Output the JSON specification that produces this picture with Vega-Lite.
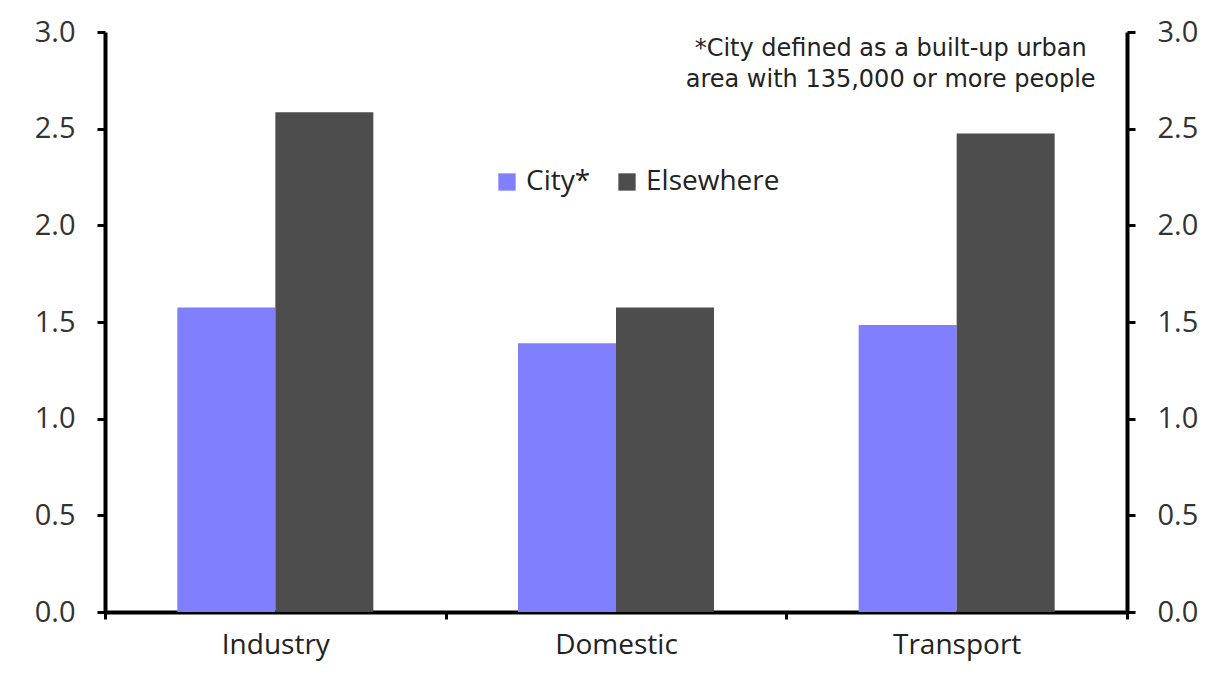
{
  "$schema": "https://vega.github.io/schema/vega-lite/v6.json",
  "width": 1022,
  "height": 580,
  "autosize": {"type": "none"},
  "padding": {"left": 105, "top": 32, "right": 91, "bottom": 67},
  "background": "white",
  "config": {
    "view": {"stroke": null},
    "font": "Open Sans"
  },
  "data": {
    "values": [
      {"sector": "Industry", "area": "City*", "value": 1.575},
      {"sector": "Industry", "area": "Elsewhere", "value": 2.585},
      {"sector": "Domestic", "area": "City*", "value": 1.39},
      {"sector": "Domestic", "area": "Elsewhere", "value": 1.575},
      {"sector": "Transport", "area": "City*", "value": 1.485},
      {"sector": "Transport", "area": "Elsewhere", "value": 2.475}
    ]
  },
  "layer": [
    {
      "mark": {"type": "bar"},
      "encoding": {
        "x": {
          "field": "sector", "type": "nominal",
          "scale": {"domain": ["Industry", "Domestic", "Transport"], "paddingInner": 0, "paddingOuter": 0},
          "axis": {
            "title": null, "labelAngle": 0, "labelFontSize": 28, "labelColor": "#222",
            "labelPadding": 12, "domainColor": "black", "domainWidth": 4,
            "tickColor": "black", "tickWidth": 3, "tickSize": 7, "tickBand": "extent"
          }
        },
        "xOffset": {
          "field": "area", "type": "nominal",
          "scale": {"domain": ["City*", "Elsewhere"], "paddingInner": 0, "paddingOuter": 0.738}
        },
        "y": {
          "field": "value", "type": "quantitative",
          "scale": {"domain": [0, 3], "nice": false},
          "axis": {
            "title": null, "values": [0, 0.5, 1, 1.5, 2, 2.5, 3], "format": ".1f",
            "grid": false, "labelFontSize": 29, "labelColor": "#333", "labelPadding": 22,
            "domainColor": "black", "domainWidth": 4, "tickColor": "black", "tickWidth": 3, "tickSize": 8
          }
        },
        "color": {
          "field": "area", "type": "nominal",
          "scale": {"domain": ["City*", "Elsewhere"], "range": ["#8080ff", "#4d4d4d"]},
          "legend": {
            "title": null, "orient": "none", "legendX": 388, "legendY": 136, "direction": "horizontal",
            "symbolType": "square", "symbolSize": 300, "symbolStrokeWidth": 0, "labelFontSize": 28,
            "labelColor": "#222", "columnPadding": 22, "labelOffset": 5
          }
        }
      }
    },
    {
      "mark": {"type": "tick", "opacity": 0},
      "encoding": {
        "y": {
          "field": "value", "type": "quantitative",
          "scale": {"domain": [0, 3], "nice": false},
          "axis": {
            "orient": "right", "title": null, "values": [0, 0.5, 1, 1.5, 2, 2.5, 3], "format": ".1f",
            "grid": false, "labelFontSize": 29, "labelColor": "#333", "labelPadding": 22,
            "domainColor": "black", "domainWidth": 4, "tickColor": "black", "tickWidth": 3, "tickSize": 8
          }
        }
      }
    },
    {
      "data": {"values": [{"sector": "Transport", "pos": 2.91, "note": ["*City defined as a built-up urban", "area with 135,000 or more people"]}]},
      "mark": {"type": "text", "font": "DejaVu Sans", "fontSize": 24, "fill": "#222", "align": "center", "baseline": "middle", "lineHeight": 31, "dx": -66},
      "encoding": {
        "x": {"field": "sector", "type": "nominal"},
        "y": {"field": "pos", "type": "quantitative", "scale": {"domain": [0, 3], "nice": false}, "axis": null},
        "text": {"field": "note"}
      }
    }
  ],
  "resolve": {"scale": {"y": "independent"}}
}
